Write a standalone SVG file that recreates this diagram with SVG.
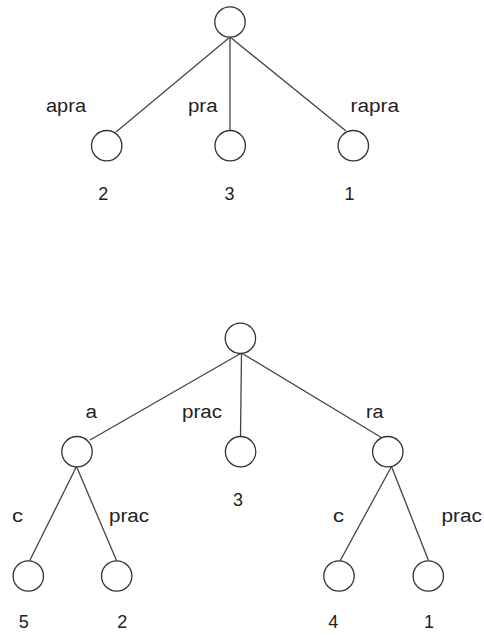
<svg xmlns="http://www.w3.org/2000/svg" width="484" height="635" viewBox="0 0 484 635">
  <style>
    .node { fill: #ffffff; stroke: #333333; stroke-width: 1.3; }
    .edge { stroke: #444444; stroke-width: 1.3; fill: none; }
    text { font-family: "Liberation Sans", Arial, sans-serif; font-size: 18px; fill: #222222; }
    .num { text-anchor: middle; }
  </style>
  <rect width="484" height="635" fill="#ffffff"/>

  <!-- connectors -->
  <g id="edges">
    <!-- upper tree -->
    <line class="edge" x1="230" y1="37" x2="116" y2="132"/>
    <line class="edge" x1="230" y1="37" x2="230" y2="130.5"/>
    <line class="edge" x1="230" y1="37" x2="346" y2="131"/>
    <!-- lower tree -->
    <line class="edge" x1="241.5" y1="353" x2="90" y2="440"/>
    <line class="edge" x1="241.5" y1="353" x2="240.5" y2="436.5"/>
    <line class="edge" x1="241.5" y1="353" x2="383" y2="438.5"/>
    <line class="edge" x1="76.5" y1="466.5" x2="29.5" y2="561"/>
    <line class="edge" x1="76.5" y1="466.5" x2="116.5" y2="560.5"/>
    <line class="edge" x1="391.5" y1="466.5" x2="340" y2="561"/>
    <line class="edge" x1="391.5" y1="466.5" x2="428.5" y2="560.5"/>
  </g>

  <!-- upper tree nodes -->
  <g id="t1-root"><circle class="node" cx="230" cy="22" r="15.2"/></g>
  <g id="t1-apra">
    <circle class="node" cx="106.7" cy="145.7" r="15.2"/>
    <text x="46" y="111.7" textLength="40" lengthAdjust="spacingAndGlyphs">apra</text>
    <text class="num" x="103.3" y="200">2</text>
  </g>
  <g id="t1-pra">
    <circle class="node" cx="230.2" cy="145.7" r="15.2"/>
    <text x="188" y="111.7" textLength="29.5" lengthAdjust="spacingAndGlyphs">pra</text>
    <text class="num" x="229.5" y="200">3</text>
  </g>
  <g id="t1-rapra">
    <circle class="node" cx="353.3" cy="145.7" r="15.2"/>
    <text x="350.5" y="111.7" textLength="48.5" lengthAdjust="spacingAndGlyphs">rapra</text>
    <text class="num" x="349.5" y="200">1</text>
  </g>

  <!-- lower tree nodes -->
  <g id="t2-root"><circle class="node" cx="240.4" cy="338.3" r="15.2"/></g>
  <g id="t2-a">
    <circle class="node" cx="77" cy="451.7" r="15.2"/>
    <text x="85.5" y="418.3" textLength="11.5" lengthAdjust="spacingAndGlyphs">a</text>
  </g>
  <g id="t2-prac">
    <circle class="node" cx="240.6" cy="451.7" r="15.2"/>
    <text x="182" y="418.3" textLength="40" lengthAdjust="spacingAndGlyphs">prac</text>
    <text class="num" x="238" y="505.7">3</text>
  </g>
  <g id="t2-ra">
    <circle class="node" cx="387.8" cy="451.7" r="15.2"/>
    <text x="366" y="418.3" textLength="17.5" lengthAdjust="spacingAndGlyphs">ra</text>
  </g>
  <g id="t2-a-c">
    <circle class="node" cx="28.3" cy="576" r="15.2"/>
    <text x="12" y="521.7" textLength="11" lengthAdjust="spacingAndGlyphs">c</text>
    <text class="num" x="23.7" y="628.3">5</text>
  </g>
  <g id="t2-a-prac">
    <circle class="node" cx="116.7" cy="576" r="15.2"/>
    <text x="109" y="521.7" textLength="40" lengthAdjust="spacingAndGlyphs">prac</text>
    <text class="num" x="122.3" y="628.3">2</text>
  </g>
  <g id="t2-ra-c">
    <circle class="node" cx="339" cy="576" r="15.2"/>
    <text x="333" y="521.7" textLength="11" lengthAdjust="spacingAndGlyphs">c</text>
    <text class="num" x="333.3" y="628.3">4</text>
  </g>
  <g id="t2-ra-prac">
    <circle class="node" cx="428.3" cy="576" r="15.2"/>
    <text x="441.5" y="521.7" textLength="40.5" lengthAdjust="spacingAndGlyphs">prac</text>
    <text class="num" x="429" y="628.3">1</text>
  </g>
</svg>
